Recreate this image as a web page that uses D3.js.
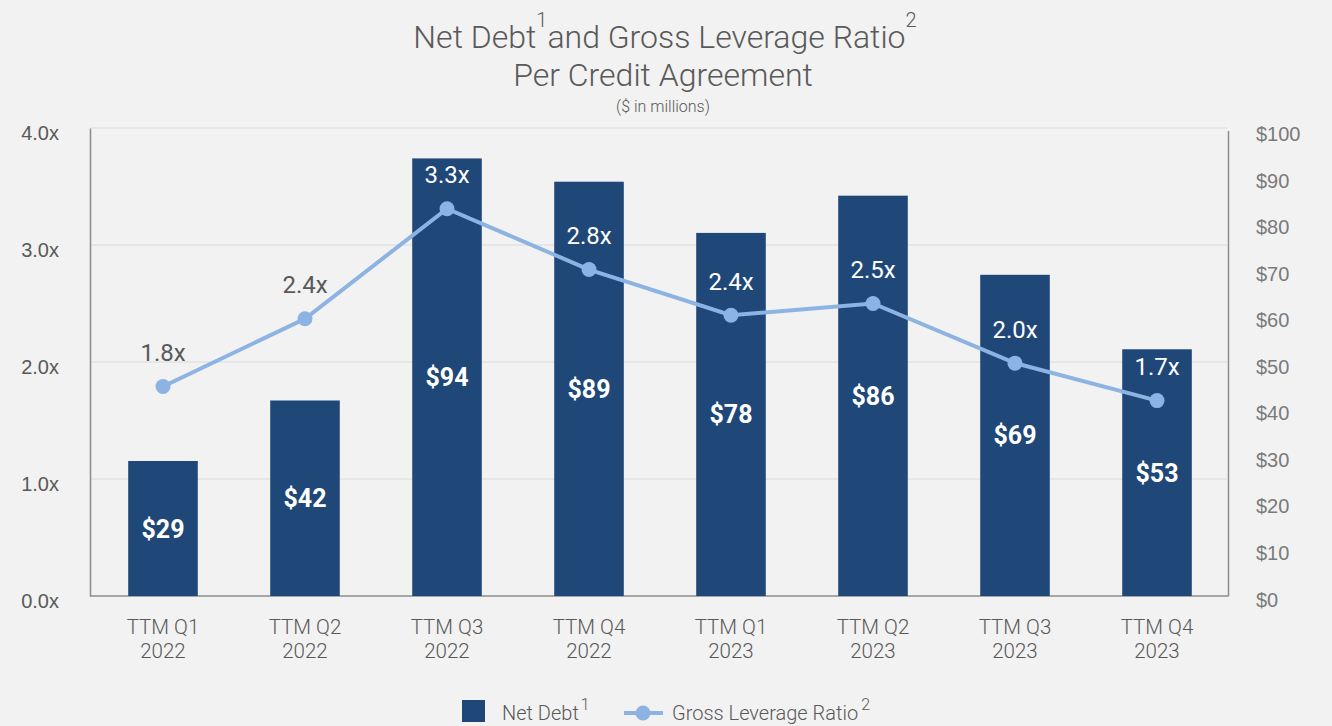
<!DOCTYPE html>
<html>
<head>
<meta charset="utf-8">
<script src="https://cdnjs.cloudflare.com/ajax/libs/d3/7.8.5/d3.min.js"></script>
<style>
  html, body { margin: 0; padding: 0; background: #f2f2f2; }
  svg { display: block; font-family: Roboto, "Noto Sans", sans-serif; }
</style>
</head>
<body>
<div id="chart"></div>
<script>
const quarters = ["TTM Q1", "TTM Q2", "TTM Q3", "TTM Q4", "TTM Q1", "TTM Q2", "TTM Q3", "TTM Q4"]
const years = ["2022", "2022", "2022", "2022", "2023", "2023", "2023", "2023"]
const netDebt = [29, 42, 94, 89, 78, 86, 69, 53]
const leverage = [1.79, 2.37, 3.31, 2.79, 2.40, 2.50, 1.99, 1.67]
const leftTicks = [0, 1, 2, 3, 4]
const rightTicks = [0, 10, 20, 30, 40, 50, 60, 70, 80, 90, 100]

const width = 1332, height = 726
const barColor = "#1f4778", lineColor = "#8db3e2", textColor = "#595959"

const svg = d3.select("#chart").append("svg")
  .attr("width", width).attr("height", height)

svg.append("rect").attr("width", width).attr("height", height).attr("fill", "#f2f2f2")

const cats = quarters.map((q, i) => i)
const x = d3.scaleBand().domain(cats).range([92, 1228]).paddingInner(0.51).paddingOuter(0.255)
const yL = d3.scaleLinear().domain([0, 4]).range([596, 128])
const yR = d3.scaleLinear().domain([0, 100]).range([596, 130.5])

// grid lines
svg.append("g").selectAll("line").data(leftTicks.filter(d => d > 0)).enter()
  .append("line")
  .attr("x1", 91).attr("x2", 1227)
  .attr("y1", d => yL(d)).attr("y2", d => yL(d))
  .attr("stroke", "#e2e2e2").attr("stroke-width", 1.5)

// left axis
const leftAxis = svg.append("g").attr("transform", "translate(90,0)")
  .call(d3.axisLeft(yL).tickValues(leftTicks).tickFormat(d => d3.format(".1f")(d) + "x").tickSize(0).tickPadding(31))
leftAxis.select(".domain").attr("stroke", "#8c8c8c").attr("stroke-width", 1.5)
leftAxis.selectAll("text").attr("fill", textColor).attr("font-size", 20).attr("font-weight", 300).attr("dy", "0.55em")

// right axis
const rightAxis = svg.append("g").attr("transform", "translate(1228,0)")
  .call(d3.axisRight(yR).tickValues(rightTicks).tickFormat(d => "$" + d).tickSize(0).tickPadding(28))
rightAxis.select(".domain").attr("stroke", "#8c8c8c").attr("stroke-width", 1.5)
rightAxis.selectAll("text").attr("fill", "#7a7a7a").attr("font-size", 20).attr("font-weight", 300).attr("dy", "0.5em")

// bottom axis line
svg.append("line").attr("x1", 90).attr("x2", 1228).attr("y1", 596).attr("y2", 596)
  .attr("stroke", "#8c8c8c").attr("stroke-width", 1.5)

// bars
svg.append("g").selectAll("rect").data(netDebt).enter()
  .append("rect")
  .attr("x", (d, i) => x(i))
  .attr("y", d => yR(d))
  .attr("width", x.bandwidth())
  .attr("height", d => yR(0) - yR(d))
  .attr("fill", barColor)

svg.append("g").selectAll("text").data(netDebt).enter()
  .append("text")
  .attr("x", (d, i) => x(i) + x.bandwidth() / 2)
  .attr("y", d => (yR(d) + yR(0)) / 2)
  .attr("dy", "0.36em")
  .attr("text-anchor", "middle")
  .attr("fill", "#fff").attr("font-size", 25).attr("font-weight", 700)
  .text(d => "$" + d)

// x labels
const xl = svg.append("g").selectAll("text").data(cats).enter()
  .append("text")
  .attr("x", i => x(i) + x.bandwidth() / 2)
  .attr("text-anchor", "middle")
  .attr("fill", textColor).attr("font-size", 20.5).attr("font-weight", 300)
xl.append("tspan").attr("x", i => x(i) + x.bandwidth() / 2).attr("y", 634).text(i => quarters[i])
xl.append("tspan").attr("x", i => x(i) + x.bandwidth() / 2).attr("y", 658).text(i => years[i])

// leverage line
const line = d3.line().x((d, i) => x(i) + x.bandwidth() / 2).y(d => yL(d))
svg.append("path").datum(leverage)
  .attr("d", line).attr("fill", "none")
  .attr("stroke", lineColor).attr("stroke-width", 4)

svg.append("g").selectAll("circle").data(leverage).enter()
  .append("circle")
  .attr("cx", (d, i) => x(i) + x.bandwidth() / 2)
  .attr("cy", d => yL(d))
  .attr("r", 7.5)
  .attr("fill", lineColor)

svg.append("g").selectAll("text").data(leverage).enter()
  .append("text")
  .attr("x", (d, i) => x(i) + x.bandwidth() / 2)
  .attr("y", d => yL(d) - 34)
  .attr("dy", "0.36em")
  .attr("text-anchor", "middle")
  .attr("font-size", 24)
  .attr("fill", (d, i) => (yL(d) - 46 > yR(netDebt[i]) ? "#fff" : textColor))
  .text(d => d3.format(".1f")(d) + "x")

// title
const t1 = svg.append("text").attr("x", 665).attr("y", 48).attr("text-anchor", "middle")
  .attr("fill", textColor).attr("font-size", 32).attr("font-weight", 300)
t1.append("tspan").text("Net Debt")
t1.append("tspan").attr("font-size", 20).attr("dy", -21).text("1")
t1.append("tspan").attr("dy", 21).text("and Gross Leverage Ratio")
t1.append("tspan").attr("font-size", 20).attr("dy", -21).text("2")

svg.append("text").attr("x", 663).attr("y", 86).attr("text-anchor", "middle")
  .attr("fill", textColor).attr("font-size", 32).attr("font-weight", 300).text("Per Credit Agreement")
svg.append("text").attr("x", 663).attr("y", 112).attr("text-anchor", "middle")
  .attr("fill", textColor).attr("font-size", 16).attr("font-weight", 300).text("($ in millions)")

// legend
const lg = svg.append("g")
lg.append("rect").attr("x", 462).attr("y", 700).attr("width", 23).attr("height", 22).attr("fill", barColor)
const l1 = lg.append("text").attr("x", 502).attr("y", 720).attr("fill", textColor).attr("font-size", 20).attr("font-weight", 300)
l1.append("tspan").text("Net Debt")
l1.append("tspan").attr("font-size", 16).attr("dy", -10).attr("dx", 2).text("1")
lg.append("line").attr("x1", 624).attr("x2", 663).attr("y1", 713).attr("y2", 713)
  .attr("stroke", lineColor).attr("stroke-width", 4)
lg.append("circle").attr("cx", 643).attr("cy", 713).attr("r", 7.5).attr("fill", lineColor)
const l2 = lg.append("text").attr("x", 672).attr("y", 720).attr("fill", textColor).attr("font-size", 20).attr("font-weight", 300)
l2.append("tspan").text("Gross Leverage Ratio")
l2.append("tspan").attr("font-size", 16).attr("dy", -10).attr("dx", 3).text("2")
</script>
</body>
</html>
